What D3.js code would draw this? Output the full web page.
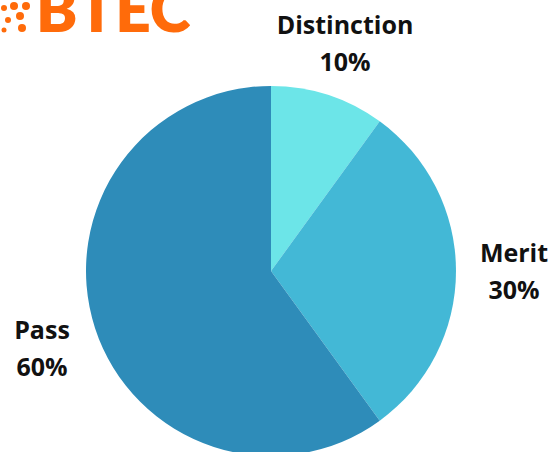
<!DOCTYPE html>
<html>
<head>
<meta charset="utf-8">
<script src="https://cdn.jsdelivr.net/npm/d3@7"></script>
<style>
  body { margin: 0; background: #fff; }
  text { font-family: "Open Sans", "Noto Sans", sans-serif; }
</style>
</head>
<body>
<div id="chart"></div>
<script>
var width = 557, height = 452

var categories = ['Distinction', 'Merit', 'Pass']
var values = [10, 30, 60]
var colors = ['#6ce5e8', '#43b8d6', '#2e8cb9']
var labelPos = [[345, 25], [514, 253], [42, 330]]

var svg = d3.select('#chart')
    .append('svg')
    .attr('width', width)
    .attr('height', height)

// logo, partly cut off at the top like in the picture
var logo = svg.append('g')
var dots = [[4, 8, 3], [14, 6, 4], [26, 6, 4], [8, 20, 3], [20, 16, 4], [4, 30, 2.5], [22, 28, 4]]
logo.selectAll('circle')
    .data(dots)
    .enter()
    .append('circle')
    .attr('cx', function(d) { return d[0] })
    .attr('cy', function(d) { return d[1] })
    .attr('r', function(d) { return d[2] })
    .attr('fill', '#ff6b0a')
logo.append('text')
    .attr('x', 36)
    .attr('y', 32)
    .attr('font-size', 62)
    .attr('font-weight', 800)
    .attr('fill', '#ff6b0a')
    .style('font-family', 'Lato, sans-serif')
    .text('BTEC')

var cx = 271, cy = 271, r = 185

var pie = d3.pie()
    .sort(null)
    .value(function(d) { return d })

var arc = d3.arc()
    .innerRadius(0)
    .outerRadius(r)

var g = svg.append('g')
    .attr('transform', 'translate(' + cx + ',' + cy + ')')

g.selectAll('path')
    .data(pie(values))
    .enter()
    .append('path')
    .attr('d', arc)
    .attr('fill', function(d, i) { return colors[i] })

var labels = svg.append('g')
    .selectAll('text')
    .data(categories)
    .enter()
    .append('text')
    .attr('text-anchor', 'middle')
    .attr('font-size', 25)
    .attr('font-weight', 'bold')
    .attr('fill', '#111')
    .attr('x', function(d, i) { return labelPos[i][0] })
    .attr('y', function(d, i) { return labelPos[i][1] + 9 })

labels.append('tspan')
    .attr('x', function(d, i) { return labelPos[i][0] })
    .text(function(d) { return d })
labels.append('tspan')
    .attr('x', function(d, i) { return labelPos[i][0] })
    .attr('dy', 37)
    .text(function(d, i) { return values[i] + '%' })
</script>
</body>
</html>
